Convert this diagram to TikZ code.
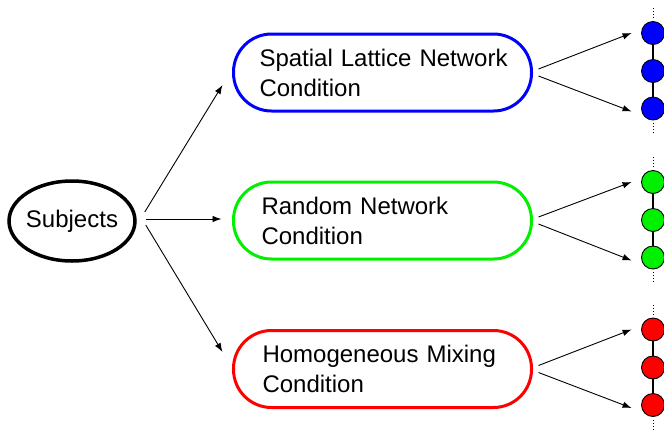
\documentclass[tikz,border=0pt]{standalone}
\usepackage{fontspec}
\setmainfont{Liberation Sans}
\usetikzlibrary{arrows.meta,shapes.geometric}
\definecolor{cblue}{RGB}{0,0,255}
\definecolor{cgreen}{RGB}{0,240,0}
\definecolor{cred}{RGB}{255,0,0}
\begin{document}
\begin{tikzpicture}[x=1pt,y=-1pt,
  arr/.style={line width=0.9pt,-{Latex[length=9pt,width=6.5pt]}},
  condbox/.style={draw,line width=3pt,minimum width=298pt,minimum height=77pt,
    rounded corners=38pt,text width=256pt,align=left,inner sep=0pt,
    font=\fontsize{24}{30}\selectfont},
  ball/.style={circle,draw,line width=0.9pt,minimum size=23pt,inner sep=0pt},
  dots/.style={line width=1pt,dotted}]
\useasboundingbox (0,0) rectangle (664,432);
\fill[white] (0,0) rectangle (664,432);
\node[ellipse,draw,line width=3.5pt,minimum width=126pt,minimum height=80pt,
  inner xsep=-2pt,inner ysep=0pt,
  font=\fontsize{24}{30}\selectfont] (subj) at (72,221) {Subjects};
\node[condbox,cblue] (b1) at (382.5,72.5) {\color{black}\hspace*{5pt}Spatial Lattice Network\\\hspace*{5pt}Condition};
\node[condbox,cgreen] (b2) at (382.5,220.5) {\color{black}\hspace*{7pt}Random Network\\\hspace*{7pt}Condition};
\node[condbox,cred] (b3) at (382.5,369) {\color{black}\hspace*{8pt}Homogeneous Mixing\\\hspace*{8pt}Condition};
\draw[arr] ([xshift=8pt,yshift=9pt]subj.east) -- ([xshift=-9.5pt,yshift=-12.5pt]b1.west);
\draw[arr] ([xshift=9pt,yshift=2pt]subj.east) -- ([xshift=-10.5pt,yshift=1.5pt]b2.west);
\draw[arr] ([xshift=9pt,yshift=-4pt]subj.east) -- ([xshift=-9.5pt,yshift=17pt]b3.west);
\foreach \b/\col/\y in {b1/cblue/71, b2/cgreen/220, b3/cred/367.5}{
  \node[ball,fill=\col] (\b t) at (653,\y-38) {};
  \node[ball,fill=\col] (\b m) at (653,\y) {};
  \node[ball,fill=\col] (\b d) at (653,\y+37.5) {};
  \draw[line width=1.3pt] (\b t) -- (\b m) -- (\b d);
  \draw[dots] ([yshift=3pt]\b t.north) -- ([yshift=14pt]\b t.north);
  \draw[dots] ([yshift=-3pt]\b d.south) -- ([yshift=-14pt]\b d.south);
  \draw[arr] ([xshift=5.5pt,yshift=3.5pt]\b.east) -- ([xshift=-9.5pt]\b t.west);
  \draw[arr] ([xshift=5.5pt,yshift=-3.5pt]\b.east) -- ([xshift=-9.5pt,yshift=-3pt]\b d.west);
}
\end{tikzpicture}
\end{document}
